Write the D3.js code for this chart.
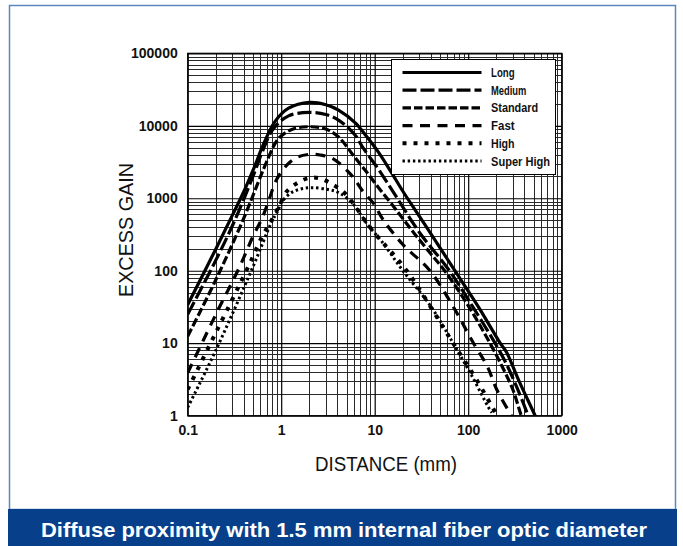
<!DOCTYPE html>
<html><head><meta charset="utf-8">
<script src="https://cdn.jsdelivr.net/npm/d3@7"></script>
<style>html,body{margin:0;padding:0;background:#fff;}svg{display:block;}</style>
</head><body>
<svg id="chart" width="683" height="546"></svg>
<script>
// ---- data ----
const seriesNames = ["Long","Medium","Standard","Fast","High","Super High"];
const xTicks = [0.1,1,10,100,1000];
const xTickLabels = ["0.1","1","10","100","1000"];
const yTicks = [1,10,100,1000,10000,100000];
const yTickLabels = ["1","10","100","1000","10000","100000"];

const long = [[0.1,34],[0.2,200],[0.3,580],[0.4,1250],[0.52,2750],[0.64,5400],[0.86,11500],[1.2,17500],[2.0,21000],[3.0,19500],[4.1,16500],[6.2,11000],[8.2,7100],[11,4300],[15,2300],[20,1250],[35,420],[72,100],[130,31],[220,10],[257,7.5],[350,3],[520,1],[560,0.8]];
const medium = [[0.1,25],[0.2,140],[0.32,500],[0.52,2300],[0.62,4200],[0.82,9000],[1.2,13700],[2.0,15300],[3.0,14300],[4.1,12000],[6.2,7400],[7.55,4900],[11,2500],[17,1050],[30,340],[63,100],[110,33],[194,10],[250,5.5],[330,2.5],[437,1],[480,0.7]];
const standard = [[0.1,12.5],[0.2,75],[0.39,500],[0.57,1680],[0.7,3200],[0.93,6600],[1.3,8900],[2.0,9700],[3.0,9000],[4.1,7000],[6.2,3600],[8,2400],[11,1400],[15,850],[25,360],[40,170],[56,100],[100,33],[171,10],[230,4.8],[300,2.3],[370,1],[400,0.8]];
const fast = [[0.1,3.9],[0.2,25],[0.36,114],[0.5,300],[0.62,520],[0.73,900],[0.89,1800],[1.19,3000],[1.5,3700],[2.0,4030],[2.6,3950],[3.6,3500],[5.6,2100],[7.55,1230],[9.7,850],[12.4,500],[20,230],[39,100],[69,32],[114,10],[160,4.8],[202,2.3],[290,1],[320,0.8]];
const high = [[0.1,2.3],[0.2,14],[0.445,114],[0.62,290],[0.79,500],[0.97,820],[1.14,1230],[1.46,1600],[2.0,1915],[2.6,1880],[3.4,1600],[4.6,1230],[6.1,800],[7.55,530],[10,330],[22,100],[69,10],[120,3.3],[205,1],[230,0.8]];
const superHigh = [[0.1,1.3],[0.2,8],[0.5,114],[0.79,470],[0.93,690],[1.0,870],[1.29,1200],[1.7,1360],[2.15,1400],[3.18,1320],[4.1,1200],[5.6,890],[7.2,580],[8.2,450],[12,250],[20,100],[40,32],[69,10],[110,3.5],[165,1.3],[180,1.1]];
const seriesData = [long, medium, standard, fast, high, superHigh];

// ---- styles ----
const styles = [
  {dash:null, w:3.2},
  {dash:"14,4", w:3.2},
  {dash:"8.5,3", w:3.2},
  {dash:"10,7.5", w:3.2},
  {dash:"4,7", w:4},
  {dash:"2.4,2.8", w:3}
];

const svg = d3.select("#chart");
const L = 187.7, R = 561.7, T = 53.3, B = 415.7;
const x = d3.scaleLog().domain([0.1,1000]).range([L,R]);
const y = d3.scaleLog().domain([1,100000]).range([B,T]);
const FONT = "'Liberation Sans', Arial, sans-serif";

// frame & footer
svg.append("rect").attr("x",9.5).attr("y",5.5).attr("width",666).attr("height",504)
  .attr("fill","none").attr("stroke","#5b86c0").attr("stroke-width",1.5);
svg.append("rect").attr("x",8).attr("y",509).attr("width",669).attr("height",37).attr("fill","#073f8b");
svg.append("text").attr("x",344).attr("y",536.5).attr("text-anchor","middle")
  .attr("fill","#fff").attr("font-family",FONT)
  .attr("font-weight","bold").attr("font-size",21)
  .attr("textLength",606).attr("lengthAdjust","spacingAndGlyphs")
  .text("Diffuse proximity with 1.5 mm internal fiber optic diameter");

// grid
const minorX = [], minorY = [];
for (let e=-1; e<3; e++) for (let m=2; m<10; m++) minorX.push(m*Math.pow(10,e));
for (let e=0; e<5; e++) for (let m=2; m<10; m++) minorY.push(m*Math.pow(10,e));

const g = svg.append("g");
g.append("g").attr("transform",`translate(0,${B})`)
  .call(d3.axisBottom(x).tickValues(minorX).tickSize(-(B-T)).tickFormat(""))
  .call(s=>s.select(".domain").remove())
  .call(s=>s.selectAll("line").attr("stroke","#2a2a2a").attr("stroke-width",1).attr("shape-rendering","crispEdges"));
g.append("g").attr("transform",`translate(${L},0)`)
  .call(d3.axisLeft(y).tickValues(minorY).tickSize(-(R-L)).tickFormat(""))
  .call(s=>s.select(".domain").remove())
  .call(s=>s.selectAll("line").attr("stroke","#2a2a2a").attr("stroke-width",1).attr("shape-rendering","crispEdges"));
g.append("g").attr("transform",`translate(0,${B})`)
  .call(d3.axisBottom(x).tickValues(xTicks).tickSize(-(B-T)).tickPadding(10).tickFormat((d,i)=>xTickLabels[i]))
  .call(s=>s.select(".domain").remove())
  .call(s=>s.selectAll("line").attr("stroke","#000").attr("stroke-width",1.2))
  .call(s=>s.selectAll("text").attr("fill","#111").attr("font-family",FONT)
     .attr("font-weight","bold").attr("font-size",14).attr("dy","0.71em").attr("y",9));
g.append("g").attr("transform",`translate(${L},0)`)
  .call(d3.axisLeft(y).tickValues(yTicks).tickSize(-(R-L)).tickPadding(10).tickFormat((d,i)=>yTickLabels[i]))
  .call(s=>s.select(".domain").remove())
  .call(s=>s.selectAll("line").attr("stroke","#000").attr("stroke-width",1.2))
  .call(s=>s.selectAll("text").attr("fill","#111").attr("font-family",FONT)
     .attr("font-weight","bold").attr("font-size",14).attr("x",-10));

svg.append("rect").attr("x",L).attr("y",T).attr("width",R-L).attr("height",B-T)
  .attr("fill","none").attr("stroke","#000").attr("stroke-width",1.2);

// axis titles
svg.append("text").attr("transform","translate(133,230) rotate(-90)").attr("text-anchor","middle")
  .attr("font-family",FONT).attr("font-size",20).attr("fill","#111")
  .attr("textLength",134).attr("lengthAdjust","spacingAndGlyphs").text("EXCESS GAIN");
svg.append("text").attr("x",386).attr("y",471).attr("text-anchor","middle")
  .attr("font-family",FONT).attr("font-size",20).attr("fill","#111")
  .attr("textLength",142).attr("lengthAdjust","spacingAndGlyphs").text("DISTANCE (mm)");

// curves
svg.append("clipPath").attr("id","clip").append("rect").attr("x",L).attr("y",T).attr("width",R-L).attr("height",B-T);
const line = d3.line().x(d=>x(d[0])).y(d=>y(d[1])).curve(d3.curveCatmullRom.alpha(0.5));
const cg = svg.append("g").attr("clip-path","url(#clip)");
seriesData.forEach((d,i)=>{
  cg.append("path").datum(d).attr("d",line).attr("fill","none").attr("stroke","#000")
    .attr("stroke-width",styles[i].w).attr("stroke-dasharray",styles[i].dash)
    .attr("stroke-linejoin","round");
});

// legend
const lg = svg.append("g");
lg.append("rect").attr("x",391.5).attr("y",59.5).attr("width",164).attr("height",115)
  .attr("fill","#fff").attr("stroke","#000").attr("stroke-width",1);
seriesNames.forEach((n,i)=>{
  const yy = 72.5 + i*17.7;
  lg.append("line").attr("x1",402.5).attr("x2",481.5).attr("y1",yy).attr("y2",yy)
    .attr("stroke","#000").attr("stroke-width",styles[i].w).attr("stroke-dasharray",styles[i].dash);
  lg.append("text").attr("x",491).attr("y",yy+4.5).attr("font-family",FONT)
    .attr("font-weight","bold").attr("font-size",12.5).attr("fill","#111")
    .attr("textLength", n.length*5.9).attr("lengthAdjust","spacingAndGlyphs").text(n);
});
</script>
</body></html>
